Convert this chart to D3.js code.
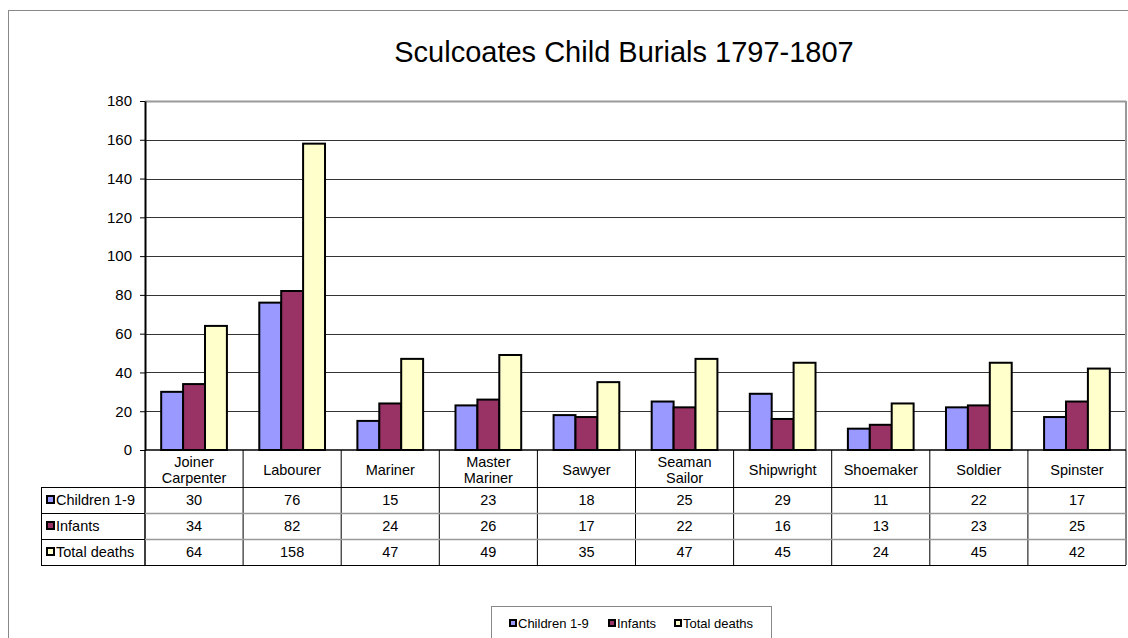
<!DOCTYPE html>
<html>
<head>
<meta charset="utf-8">
<script src="https://cdn.jsdelivr.net/npm/d3@7"></script>
<style>
  body { margin: 0; background: #fff; }
  svg { font-family: Arial, "Liberation Sans", sans-serif; }
</style>
</head>
<body>
<svg id="chart" width="1128" height="638"></svg>
<script>
// data
const categories = [["Joiner", "Carpenter"], ["Labourer"], ["Mariner"], ["Master", "Mariner"], ["Sawyer"],
  ["Seaman", "Sailor"], ["Shipwright"], ["Shoemaker"], ["Soldier"], ["Spinster"]];
const seriesNames = ["Children 1-9", "Infants", "Total deaths"];
const children = [30, 76, 15, 23, 18, 25, 29, 11, 22, 17];
const infants = [34, 82, 24, 26, 17, 22, 16, 13, 23, 25];
const totalDeaths = [64, 158, 47, 49, 35, 47, 45, 24, 45, 42];
const yTicks = [0, 20, 40, 60, 80, 100, 120, 140, 160, 180];
const colors = ["#9999ff", "#993366", "#ffffcc"];

const series = [children, infants, totalDeaths];

const svg = d3.select("#chart");
const plotLeft = 145, plotRight = 1126, plotTop = 101, plotBottom = 450;
const tableLeft = 41, rowH = 26, headH = 37;
const fs = 14.5;

// ytre ramme
svg.append("rect")
  .attr("x", 8.5).attr("y", 10.5)
  .attr("width", 1140).attr("height", 660)
  .attr("fill", "none").attr("stroke", "#888").attr("stroke-width", 1);

svg.append("text")
  .attr("x", 624).attr("y", 62)
  .attr("text-anchor", "middle")
  .attr("font-size", 29)
  .text("Sculcoates Child Burials 1797-1807");

const x = d3.scaleBand().domain(d3.range(categories.length)).range([plotLeft, plotRight]);
const xs = d3.scaleBand().domain(d3.range(series.length))
  .range([x.bandwidth() * 0.165, x.bandwidth() * 0.835]);
const y = d3.scaleLinear().domain([0, 180]).range([plotBottom, plotTop]);

// gitterlinjer
svg.append("g").selectAll("line")
  .data(yTicks.filter(d => d > 0))
  .join("line")
  .attr("x1", plotLeft).attr("x2", plotRight)
  .attr("y1", d => Math.round(y(d)) + 0.5).attr("y2", d => Math.round(y(d)) + 0.5)
  .attr("stroke", d => d === 180 ? "#999" : "#000")
  .attr("stroke-width", d => d === 180 ? 2 : 0.8);

svg.append("line")
  .attr("x1", plotRight).attr("x2", plotRight).attr("y1", plotTop).attr("y2", plotBottom)
  .attr("stroke", "#999").attr("stroke-width", 2);

// y-akse
const yAxis = svg.append("g")
  .attr("transform", `translate(${plotLeft},0)`)
  .call(d3.axisLeft(y).tickValues(yTicks).tickSize(5).tickSizeOuter(0));
yAxis.select(".domain").attr("stroke", "#000").attr("stroke-width", 2);
yAxis.selectAll(".tick line").attr("stroke", "#000");
yAxis.selectAll(".tick text").attr("font-size", 15).attr("font-family", "Arial, 'Liberation Sans', sans-serif")
  .attr("x", -13);

// søjler
series.forEach((vals, si) => {
  svg.append("g").selectAll("rect")
    .data(vals)
    .join("rect")
    .attr("x", (d, i) => x(i) + xs(si))
    .attr("y", d => y(d))
    .attr("width", xs.bandwidth())
    .attr("height", d => plotBottom - y(d))
    .attr("fill", colors[si])
    .attr("stroke", "#000")
    .attr("stroke-width", 2);
});

// tabel
const tableBottom = plotBottom + headH + rowH * 3;
const tg = svg.append("g");
// header celler
categories.forEach((c, i) => {
  const cx = x(i) + x.bandwidth() / 2;
  const t = tg.append("text").attr("text-anchor", "middle").attr("font-size", fs);
  if (c.length === 1) {
    t.attr("x", cx).attr("y", plotBottom + 25).text(c[0]);
  } else {
    t.append("tspan").attr("x", cx).attr("y", plotBottom + 17).text(c[0]);
    t.append("tspan").attr("x", cx).attr("y", plotBottom + 33).text(c[1]);
  }
});
// vertikale linjer
d3.range(categories.length + 1).forEach(i => {
  const xx = i === categories.length ? plotRight : x(i);
  tg.append("line")
    .attr("x1", xx).attr("x2", xx)
    .attr("y1", plotBottom).attr("y2", tableBottom)
    .attr("stroke", "#000")
    .attr("stroke-width", i === 0 ? 1.5 : 1);
});
// rækker
series.forEach((vals, si) => {
  const ry = plotBottom + headH + rowH * si;
  tg.append("line")
    .attr("x1", si === 0 ? tableLeft : plotLeft).attr("x2", plotRight)
    .attr("y1", ry + 0.5).attr("y2", ry + 0.5)
    .attr("stroke", si === 0 ? "#000" : "#999").attr("stroke-width", si === 0 ? 1 : 1.5);
  tg.append("rect")
    .attr("x", 47).attr("y", ry + rowH / 2 - 4)
    .attr("width", 7).attr("height", 7)
    .attr("fill", colors[si]).attr("stroke", "#000").attr("stroke-width", 2);
  tg.append("text")
    .attr("x", 56).attr("y", ry + rowH / 2 + 5)
    .attr("font-size", fs)
    .text(seriesNames[si]);
  vals.forEach((v, i) => {
    tg.append("text")
      .attr("x", x(i) + x.bandwidth() / 2).attr("y", ry + rowH / 2 + 5)
      .attr("text-anchor", "middle").attr("font-size", fs)
      .text(v);
  });
  if (si > 0) {
    tg.append("line")
      .attr("x1", tableLeft).attr("x2", plotLeft)
      .attr("y1", ry + 0.5).attr("y2", ry + 0.5)
      .attr("stroke", "#000");
  }
});
tg.append("line")
  .attr("x1", tableLeft).attr("x2", plotRight)
  .attr("y1", tableBottom + 0.5).attr("y2", tableBottom + 0.5)
  .attr("stroke", "#000");
tg.append("line")
  .attr("x1", tableLeft + 0.5).attr("x2", tableLeft + 0.5)
  .attr("y1", plotBottom + headH).attr("y2", tableBottom)
  .attr("stroke", "#000");
tg.append("line")
  .attr("x1", plotLeft).attr("x2", plotRight)
  .attr("y1", plotBottom).attr("y2", plotBottom)
  .attr("stroke", "#000").attr("stroke-width", 1.5);

// legende
const lg = svg.append("g");
lg.append("rect")
  .attr("x", 491.5).attr("y", 606.5).attr("width", 280).attr("height", 40)
  .attr("fill", "#fff").attr("stroke", "#888");
const legX = [510, 609, 675];
seriesNames.forEach((n, i) => {
  lg.append("rect")
    .attr("x", legX[i]).attr("y", 620)
    .attr("width", 6).attr("height", 6)
    .attr("fill", colors[i]).attr("stroke", "#000").attr("stroke-width", 2);
  lg.append("text")
    .attr("x", legX[i] + 8).attr("y", 628)
    .attr("font-size", 13)
    .text(n);
});
</script>
</body>
</html>
